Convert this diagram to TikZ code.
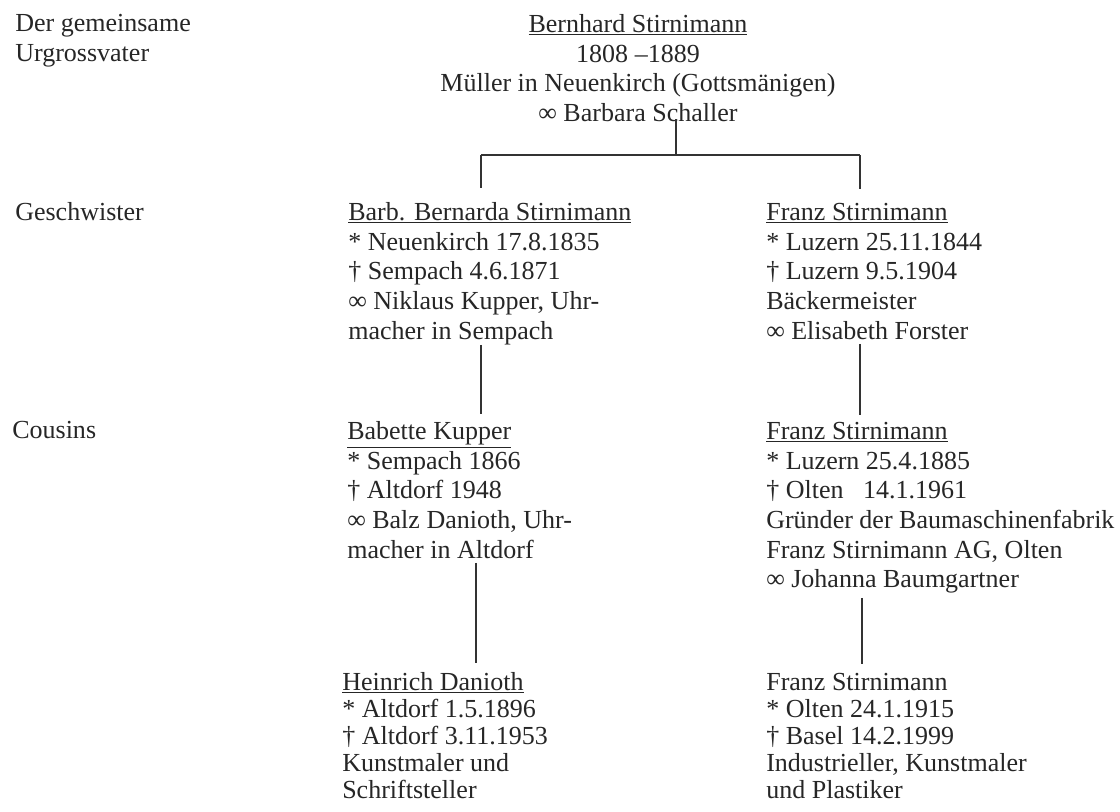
\documentclass[tikz,border=0pt]{standalone}
\usepackage{fontspec}
\setmainfont{Liberation Serif}
\usepackage{tikz}
\usetikzlibrary{positioning}
\newcommand\famtext{\fontsize{18.5pt}{21.1pt}\selectfont}
\newcommand\famtight{\fontsize{18.5pt}{19.2pt}\selectfont}
\tikzset{
	person/.style={anchor=north west, align=left, inner sep=0pt, font=\famtext, text=black!85},
	lastperson/.style={person, font=\famtight},
	genname/.style={anchor=north west, align=left, inner sep=0pt, font=\famtext, text=black!85},
	stem/.style={draw=black!80, line width=1pt, shorten <=3pt, shorten >=5pt}
}

\begin{document}
\begin{tikzpicture}[x=0.025cm, y=-0.025cm]
	\useasboundingbox (0,0) rectangle (1120,811);
	% generations on the left
	\node[genname] (urgross) at (15,14) {Der gemeinsame\\Urgrossvater};
	\node[genname] (geschw) at (15,202) {Geschwister};
	\node[genname] (cousins) at (12,421) {Cousins};
	% the common ancestor
	\node[person, anchor=north, align=center] (bernhard) at (638,14) {\underline{Bernhard Stirnimann}\\1808 \textendash1889\\Müller in Neuenkirch (Gottsmänigen)\\∞ Barbara Schaller};
	% children
	\node[person] (barbara) at (348,202) {\underline{Barb. Bernarda Stirnimann}\\* Neuenkirch 17.8.1835\\† Sempach 4.6.1871\\∞ Niklaus Kupper, Uhr-\\macher in Sempach};
	\node[person] (franzA) at (766,203) {\underline{Franz Stirnimann}\\* Luzern 25.11.1844\\† Luzern 9.5.1904\\Bäckermeister\\∞ Elisabeth Forster};
	% grandchildren
	\node[person] (babette) at (347,421) {\underline{Babette Kupper}\\* Sempach 1866\\† Altdorf 1948\\∞ Balz Danioth, Uhr-\\macher in Altdorf};
	\node[person] (franzB) at (766,422) {\underline{Franz Stirnimann}\\* Luzern 25.4.1885\\† Olten\hspace{0.75em}14.1.1961\\Gründer der Baumaschinenfabrik\\Franz Stirnimann AG, Olten\\∞ Johanna Baumgartner};
	% the cousins
	\node[lastperson] (heinrich) at (342,672) {\underline{Heinrich Danioth}\\* Altdorf 1.5.1896\\† Altdorf 3.11.1953\\Kunstmaler und\\Schriftsteller};
	\node[lastperson] (franzC) at (766,673) {Franz Stirnimann\\* Olten 24.1.1915\\† Basel 14.2.1999\\Industrieller, Kunstmaler\\und Plastiker};
	% lines of descent
	\coordinate (fork) at (676,155);
	\coordinate (lx) at (481,0);
	\coordinate (lxb) at (476,0);
	\coordinate (rx) at (860,0);
	\coordinate (rxb) at (862,0);
	\draw[black!80, line width=1pt, shorten <=-2pt] (bernhard.south -| fork) -- (fork);
	\draw[black!80, line width=1.1pt] (lx |- fork) -- (rx |- fork);
	\draw[stem, shorten <=0pt, shorten >=10pt] (lx |- fork) -- (lx |- barbara.north);
	\draw[stem, shorten <=0pt, shorten >=10pt] (rx |- fork) -- (rx |- franzA.north);
	\draw[stem, shorten <=0pt] (lx |- barbara.south) -- (lx |- babette.north);
	\draw[stem] (rx |- franzA.south) -- (rx |- franzB.north);
	\draw[stem, shorten >=6.5pt] (lxb |- babette.south) -- (lxb |- heinrich.north);
	\draw[stem, shorten >=6.5pt] (rxb |- franzB.south) -- (rxb |- franzC.north);
\end{tikzpicture}
\end{document}
